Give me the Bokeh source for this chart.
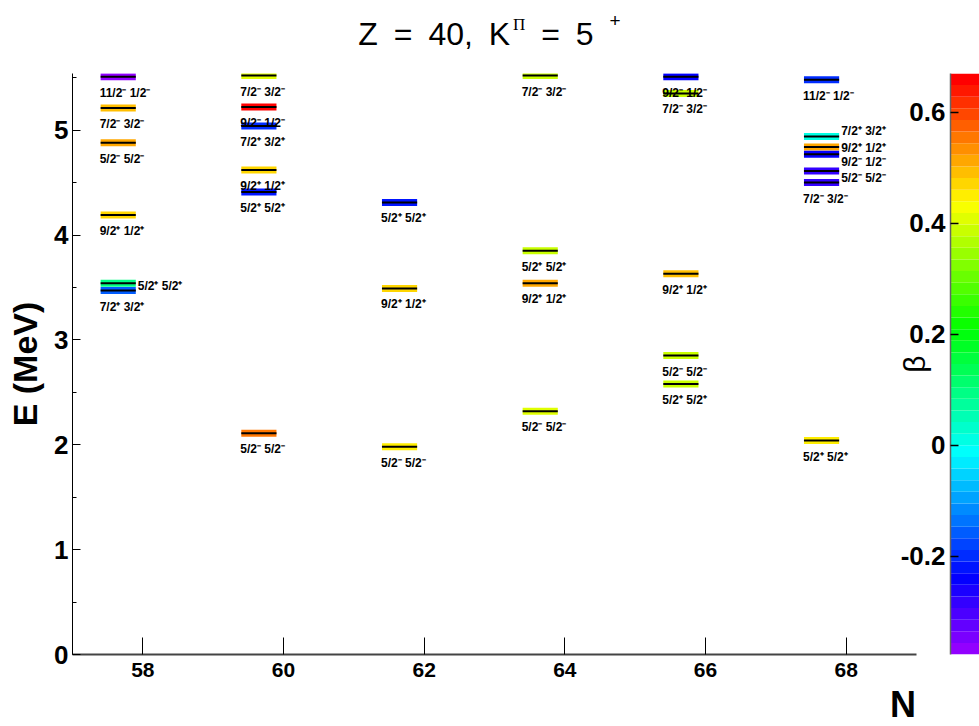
import colorsys
from bokeh.plotting import figure
from bokeh.models import (ColumnDataSource, Range1d, FixedTicker, SingleIntervalTicker,
                          LinearColorMapper, Row, Div)
from bokeh.transform import transform
from bokeh.core.properties import value
from bokeh.embed import file_html
from bokeh.resources import INLINE

# ---------------- data ----------------
N_level = [58, 58, 58, 58, 58, 58,
           60, 60, 60, 60, 60, 60,
           62, 62, 62,
           64, 64, 64, 64,
           66, 66, 66, 66, 66,
           68, 68, 68, 68, 68, 68, 68]
E_level = [5.51, 5.21, 4.88, 4.19, 3.54, 3.47,
           5.52, 5.22, 5.04, 4.62, 4.41, 2.11,
           4.31, 3.49, 1.98,
           5.52, 3.85, 3.54, 2.32,
           5.51, 5.35, 3.63, 2.85, 2.58,
           5.48, 4.94, 4.84, 4.77, 4.61, 4.50, 2.04]
beta_level = [-0.37, 0.49, 0.51, 0.47, 0.10, -0.16,
              0.41, 0.66, -0.20, 0.47, -0.21, 0.55,
              -0.22, 0.48, 0.45,
              0.39, 0.39, 0.52, 0.40,
              -0.24, 0.39, 0.50, 0.39, 0.39,
              -0.20, 0.01, 0.52, -0.25, -0.28, -0.28, 0.45]
label_level = ["11/2⁻ 1/2⁻", "7/2⁻ 3/2⁻", "5/2⁻ 5/2⁻", "9/2⁺ 1/2⁺", "5/2⁺ 5/2⁺", "7/2⁺ 3/2⁺",
               "7/2⁻ 3/2⁻", "9/2⁻ 1/2⁻", "7/2⁺ 3/2⁺", "9/2⁺ 1/2⁺", "5/2⁺ 5/2⁺", "5/2⁻ 5/2⁻",
               "5/2⁺ 5/2⁺", "9/2⁺ 1/2⁺", "5/2⁻ 5/2⁻",
               "7/2⁻ 3/2⁻", "5/2⁺ 5/2⁺", "9/2⁺ 1/2⁺", "5/2⁻ 5/2⁻",
               "9/2⁻ 1/2⁻", "7/2⁻ 3/2⁻", "9/2⁺ 1/2⁺", "5/2⁻ 5/2⁻", "5/2⁺ 5/2⁺",
               "11/2⁻ 1/2⁻", "7/2⁺ 3/2⁺", "9/2⁺ 1/2⁺", "9/2⁻ 1/2⁻", "5/2⁻ 5/2⁻", "7/2⁻ 3/2⁻", "5/2⁺ 5/2⁺"]

x_ticks = [58, 60, 62, 64, 66, 68]
beta_ticks = [-0.2, 0, 0.2, 0.4, 0.6]
BETA_MIN, BETA_MAX = -0.377, 0.67
N_RANGE = (57, 69)
E_RANGE = (0, 5.54)

# ---------------- styles ----------------
BAR_L, BAR_R = -0.6, -0.1            # bar extent relative to N
BELOW_DY = 16                        # px, label below bar
# labels drawn to the right of the bar: (N, label) -> vertical pixel offset
RIGHT_LABEL_DY = {(58, "5/2⁺ 5/2⁺"): 3,
                  (68, "7/2⁺ 3/2⁺"): -5,
                  (68, "9/2⁺ 1/2⁺"): 1,
                  (68, "9/2⁻ 1/2⁻"): 8,
                  (68, "5/2⁻ 5/2⁻"): 7}
FONT = "Liberation Sans"


def root_pretty_palette(n=50, max_hue=280.0):
    cols = []
    for i in range(n):
        h = max_hue - (i + 1) * max_hue / n
        r, g, b = colorsys.hls_to_rgb(h / 360.0, 0.5, 1.0)
        cols.append("#%02x%02x%02x" % (round(r * 255), round(g * 255), round(b * 255)))
    return cols


PALETTE = root_pretty_palette()
mapper = LinearColorMapper(palette=PALETTE, low=BETA_MIN, high=BETA_MAX)

lx, dx, dy = [], [], []
for n, lab in zip(N_level, label_level):
    if (n, lab) in RIGHT_LABEL_DY:
        lx.append(n + BAR_R); dx.append(2); dy.append(RIGHT_LABEL_DY[(n, lab)])
    else:
        lx.append(n + BAR_L); dx.append(-1); dy.append(BELOW_DY)

src = ColumnDataSource(dict(
    N=N_level, E=E_level, beta=beta_level, lab=label_level,
    x0=[n + BAR_L for n in N_level], x1=[n + BAR_R for n in N_level],
    lx=lx, dx=dx, dy=dy))

W, H = 979, 726

# ---------------- main figure ----------------
p = figure(width=W, height=H, output_backend="svg", toolbar_location=None,
           x_range=Range1d(*N_RANGE), y_range=Range1d(*E_RANGE),
           min_border_left=72, min_border_right=63, min_border_top=72, min_border_bottom=72,
           background_fill_color=None, border_fill_color=None, outline_line_color=None)
p.grid.visible = False

p.segment(x0="x0", x1="x1", y0="E", y1="E", source=src, line_width=7,
          line_color=transform("beta", mapper), line_cap="butt")
p.segment(x0="x0", x1="x1", y0="E", y1="E", source=src, line_width=2,
          line_color="black", line_cap="butt")
p.text(x="lx", y="E", text="lab", x_offset="dx", y_offset="dy", source=src,
       text_font=value(FONT), text_font_style="bold", text_font_size="12px",
       text_align="left", text_baseline="alphabetic", text_color="black")

xa = p.xaxis[0]
xa.ticker = FixedTicker(ticks=x_ticks, minor_ticks=[])
xa.major_tick_in = 17
xa.major_tick_out = 0
xa.major_tick_line_color = "black"
xa.axis_line_color = "#444444"
xa.axis_line_width = 2
xa.major_label_text_font = FONT
xa.major_label_text_font_style = "bold"
xa.major_label_text_font_size = "21px"
xa.major_label_text_color = "black"
xa.major_label_standoff = 8

ya = p.yaxis[0]
ya.ticker = SingleIntervalTicker(interval=1, num_minor_ticks=2)
ya.major_tick_in = 8
ya.major_tick_out = 0
ya.minor_tick_in = 4
ya.minor_tick_out = 0
ya.axis_line_color = "black"
ya.major_label_text_font = FONT
ya.major_label_text_font_style = "bold"
ya.major_label_text_font_size = "26px"
ya.major_label_text_color = "black"
ya.major_label_standoff = 4
ya.axis_label = "E (MeV)"
ya.axis_label_text_font = FONT
ya.axis_label_text_font_style = "bold"
ya.axis_label_text_font_size = "34px"
ya.axis_label_text_color = "black"
ya.axis_label_standoff = 7

# ---------------- colour bar figure (overlaid on the main figure) ----------------
pc = figure(width=W, height=H, output_backend="svg", toolbar_location=None,
            x_range=Range1d(0, 1), y_range=Range1d(BETA_MIN, BETA_MAX),
            x_axis_location=None,
            min_border_left=950, min_border_right=0, min_border_top=73, min_border_bottom=72,
            background_fill_color=None, border_fill_color=None, outline_line_color=None)
pc.grid.visible = False
nb = len(PALETTE)
step = (BETA_MAX - BETA_MIN) / nb
pc.quad(left=0, right=1, bottom=[BETA_MIN + i * step for i in range(nb)],
        top=[BETA_MIN + (i + 1) * step for i in range(nb)],
        fill_color=PALETTE, line_color=None)
ca = pc.yaxis[0]
ca.ticker = FixedTicker(ticks=beta_ticks, minor_ticks=[])
ca.major_label_overrides = {0: "0", -0.2: "-0.2"}
ca.major_tick_in = 8
ca.major_tick_out = 0
ca.major_tick_line_color = "black"
ca.major_tick_line_width = 1.5
ca.axis_line_color = "#666666"
ca.axis_line_width = 1.5
ca.major_label_text_font = FONT
ca.major_label_text_font_style = "bold"
ca.major_label_text_font_size = "26px"
ca.major_label_text_color = "black"
ca.major_label_standoff = 5
ca.axis_label = "β"
ca.axis_label_text_font = FONT
ca.axis_label_text_font_style = "normal"
ca.axis_label_text_font_size = "30px"
ca.axis_label_text_color = "black"
ca.axis_label_standoff = -33
pc.margin = (0, 0, 0, -W)

# ---------------- title and x-axis title (HTML text, overlaid) ----------------
title_div = Div(
    text=('<div style="width:%dpx;text-align:center;font-family:\'Liberation Sans\';'
          'font-size:32px;line-height:69px;word-spacing:7px;color:black;white-space:nowrap">'
          'Z = 40, K<span style="font-family:\'Liberation Serif\';font-size:17px;line-height:0;'
          'vertical-align:15px;margin-left:3px">&Pi;</span> = 5 '
          '<span style="font-size:19px;line-height:0;vertical-align:18px">+</span></div>') % W,
    width=W, height=72, margin=(0, 0, 0, -W))
n_div = Div(
    text=('<div style="width:%dpx;text-align:right;font-family:\'Liberation Sans\';'
          'font-weight:bold;font-size:36px;line-height:34px;color:black">N</div>') % (W - 63),
    width=W, height=34, margin=(688, 0, 0, -W))

layout = Row(children=[p, pc, title_div, n_div])

with open("out.html", "w") as f:
    f.write(file_html(layout, INLINE))
